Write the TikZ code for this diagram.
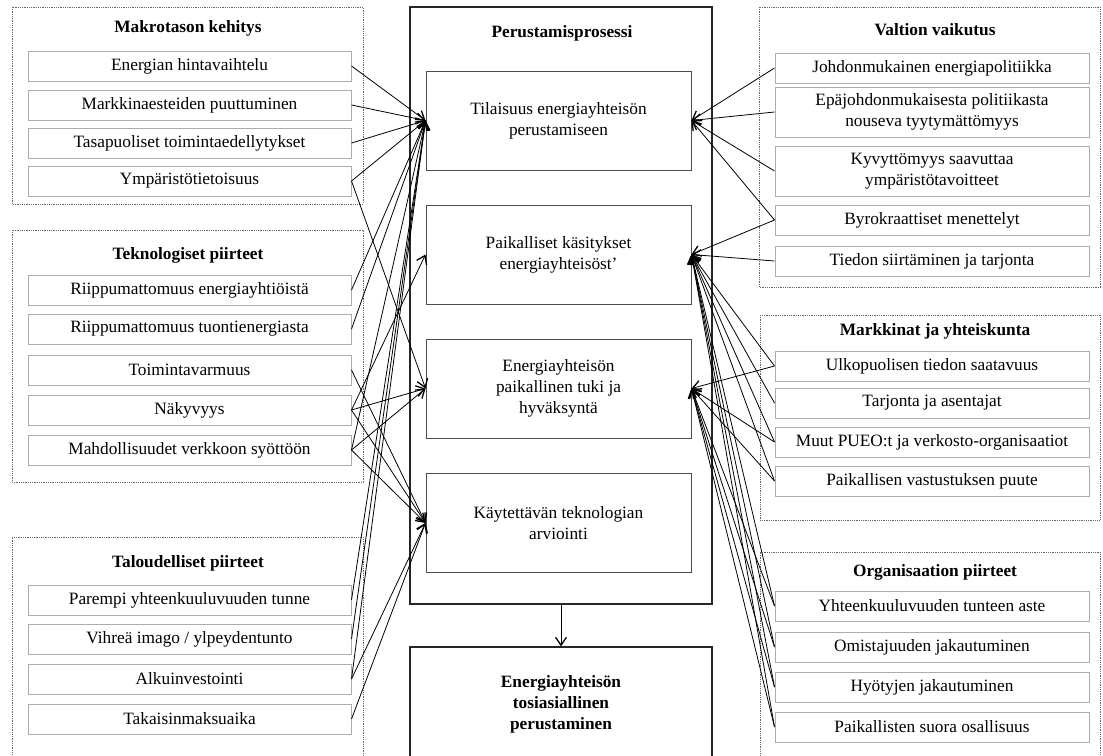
\documentclass[tikz,border=0pt]{standalone}
\usepackage{fontspec}
\setmainfont{Liberation Serif}
\usetikzlibrary{arrows.meta}

\begin{document}
\begin{tikzpicture}[x=1pt,y=-1pt,>={Straight Barb[length=8pt,width=11pt,line width=1.3pt]},
    ryhma/.style={draw=gray!80!black, densely dotted, line width=0.8pt},
    tekija/.style={draw=gray!65, line width=1pt, minimum height=30, inner sep=2pt,
        font=\fontsize{17.3}{21}\selectfont, align=center},
    vasen/.style={tekija, minimum width=323},
    oikea/.style={tekija, minimum width=314},
    vaihe/.style={draw=gray!60!black, line width=1pt, minimum width=265, minimum height=99,
        font=\fontsize{17.3}{21}\selectfont, align=center},
    kehys/.style={draw=black!85, line width=1.3pt, minimum width=302},
    otsikko/.style={font=\bfseries\fontsize{17.3}{21}\selectfont, align=center},
    nuoli/.style={->, line width=0.8pt}]

    \useasboundingbox (0,0) rectangle (1103,755);

    % Groups on the left
    \draw[ryhma] (12,7) rectangle (363,204);
    \draw[ryhma] (12,230) rectangle (363,482);
    \draw[ryhma] (12,760) -- (12,537) -- (363,537) -- (363,760);
    \node[otsikko] (makro) at (188,28) {Makrotason kehitys};
    \node[otsikko] (tekno) at (188,255) {Teknologiset piirteet};
    \node[otsikko] (talous) at (188,563) {Taloudelliset piirteet};

    \foreach \y/\nimi/\teksti in {66/mk1/Energian hintavaihtelu, 105/mk2/Markkinaesteiden puuttuminen,
        143/mk3/Tasapuoliset toimintaedellytykset, 181/mk4/Ympäristötietoisuus,
        290/tk1/Riippumattomuus energiayhtiöistä, 329/tk2/Riippumattomuus tuontienergiasta,
        370/tk3/Toimintavarmuus, 410/tk4/Näkyvyys, 450/tk5/Mahdollisuudet verkkoon syöttöön,
        600/tl1/Parempi yhteenkuuluvuuden tunne, 639/tl2/{Vihreä imago / ylpeydentunto},
        679/tl3/Alkuinvestointi, 719/tl4/Takaisinmaksuaika}
        \node[vasen] (\nimi) at (189.5,\y) {\teksti};

    % Groups on the right
    \draw[ryhma] (759,7) rectangle (1100,287);
    \draw[ryhma] (760,315) rectangle (1100,520);
    \draw[ryhma] (1100,760) -- (1100,552) -- (760,552) -- (760,760);
    \node[otsikko] (valtio) at (935,30) {Valtion vaikutus};
    \node[otsikko] (markkinat) at (935,331) {Markkinat ja yhteiskunta};
    \node[otsikko] (organisaatio) at (935,572) {Organisaation piirteet};

    \foreach \y/\h/\nimi/\teksti in {68/30/vv1/Johdonmukainen energiapolitiikka,
        112/50/vv2/{Epäjohdonmukaisesta politiikasta\\nouseva tyytymättömyys},
        171/50/vv3/{Kyvyttömyys saavuttaa\\ympäristötavoitteet},
        220/30/vv4/Byrokraattiset menettelyt, 261/30/vv5/Tiedon siirtäminen ja tarjonta,
        366/30/my1/Ulkopuolisen tiedon saatavuus, 403/30/my2/Tarjonta ja asentajat,
        442/30/my3/Muut PUEO:t ja verkosto-organisaatiot, 481/30/my4/Paikallisen vastustuksen puute,
        606/30/op1/Yhteenkuuluvuuden tunteen aste, 647/30/op2/Omistajuuden jakautuminen,
        687/30/op3/Hyötyjen jakautuminen, 727/30/op4/Paikallisten suora osallisuus}
        \node[oikea, minimum height=\h] (\nimi) at (932,\y) {\teksti};

    % Founding process in the middle
    \node[kehys, minimum height=597] (prosessi) at (561,305.5) {};
    \node[otsikko] (prosessiotsikko) at (562,33) {Perustamisprosessi};
    \node[vaihe] (tilaisuus) at (558.5,120.5) {Tilaisuus energiayhteisön\\perustamiseen};
    \node[vaihe] (kasitykset) at (558.5,254.5) {Paikalliset käsitykset\\energiayhteisöst’};
    \node[vaihe] (tuki) at (558.5,388.5) {Energiayhteisön\\paikallinen tuki ja\\hyväksyntä};
    \node[vaihe] (arviointi) at (558.5,523) {Käytettävän teknologian\\arviointi};
    \node[kehys, minimum height=114, otsikko] (perustaminen) at (561,704)
        {Energiayhteisön\\tosiasiallinen\\perustaminen};
    \draw[nuoli] (prosessi.south) -- (perustaminen.north);

    % Connectors from the left
    \foreach \a in {mk1,mk2,mk3,mk4,tk1,tk2,tk5,tl1,tl2,tl3}
        \draw[nuoli] (\a.east) -- (tilaisuus.west);
    \draw[nuoli] (tk4.east) -- (kasitykset.west);
    \foreach \a in {mk4,tk4,tk5}
        \draw[nuoli] (\a.east) -- (tuki.west);
    \foreach \a in {tk3,tk4,tk5,tl3,tl4}
        \draw[nuoli] (\a.east) -- (arviointi.west);

    % Connectors from the right
    \foreach \a in {vv1,vv2,vv3,vv4}
        \draw[nuoli] (\a.west) -- (tilaisuus.east);
    \foreach \a in {vv4,vv5,my1,my2,my3,my4,op1,op2,op3,op4}
        \draw[nuoli] (\a.west) -- (kasitykset.east);
    \foreach \a in {my1,my3,my4,op1,op2,op3,op4}
        \draw[nuoli] (\a.west) -- (tuki.east);
\end{tikzpicture}
\end{document}
